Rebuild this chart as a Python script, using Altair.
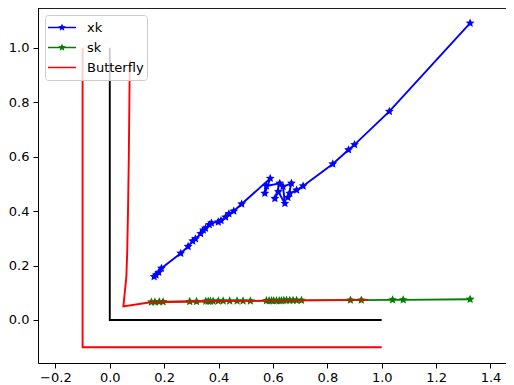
import math
import altair as alt
import pandas as pd

# ---- data ----
xk_x = [0.163, 0.170, 0.180, 0.190, 0.261, 0.288, 0.305, 0.315, 0.334, 0.344,
        0.352, 0.366, 0.374, 0.399, 0.409, 0.426, 0.438, 0.456, 0.485, 0.590,
        0.570, 0.576, 0.625, 0.607, 0.620, 0.644, 0.637, 0.668, 0.655, 0.662,
        0.687, 0.711, 0.820, 0.878, 0.900, 1.028, 1.325]
xk_y = [0.159, 0.165, 0.175, 0.190, 0.245, 0.270, 0.290, 0.298, 0.317, 0.330,
        0.337, 0.350, 0.356, 0.360, 0.365, 0.378, 0.390, 0.400, 0.426, 0.520,
        0.465, 0.492, 0.502, 0.446, 0.471, 0.428, 0.490, 0.502, 0.450, 0.465,
        0.477, 0.492, 0.573, 0.625, 0.644, 0.766, 1.090]

sk_x = [0.153, 0.166, 0.182, 0.196, 0.294, 0.319, 0.353, 0.362, 0.370, 0.380,
        0.399, 0.417, 0.441, 0.468, 0.490, 0.517, 0.576, 0.586, 0.595, 0.603,
        0.613, 0.623, 0.631, 0.640, 0.650, 0.662, 0.674, 0.687, 0.705, 0.885,
        0.925, 1.040, 1.079, 1.325]
sk_y = [0.066, 0.066, 0.067, 0.067, 0.068, 0.068, 0.069, 0.069, 0.069, 0.069,
        0.070, 0.070, 0.070, 0.070, 0.070, 0.070, 0.071, 0.071, 0.071, 0.071,
        0.071, 0.071, 0.071, 0.072, 0.072, 0.072, 0.072, 0.072, 0.072, 0.073,
        0.073, 0.074, 0.074, 0.076]

bf_x = [0.075, 0.073, 0.070, 0.067, 0.064, 0.061, 0.050, 0.150, 0.300, 0.500, 0.700, 0.950]
bf_y = [0.955, 0.900, 0.600, 0.400, 0.250, 0.160, 0.050, 0.065, 0.068, 0.070, 0.072, 0.074]

black_x = [0.0, 0.0, 1.0]
black_y = [1.0, 0.0, 0.0]
redbox_x = [-0.1, -0.1, 1.0]
redbox_y = [1.0, -0.1, -0.1]

series_names = ["xk", "sk", "Butterfly"]
series_colors = ["#0000ff", "#008000", "#ff0000"]
x_ticks = [-0.2, 0.0, 0.2, 0.4, 0.6, 0.8, 1.0, 1.2, 1.4]
y_ticks = [0.0, 0.2, 0.4, 0.6, 0.8, 1.0]

X_DOMAIN = [-0.264, 1.457]
Y_DOMAIN = [-0.158, 1.1458]
W, H = 468, 355


def star_path(r_out, r_in):
    pts = []
    for k in range(10):
        r = r_out if k % 2 == 0 else r_in
        a = math.radians(-90 + 36 * k)
        pts.append(f"{r * math.cos(a):.4f},{r * math.sin(a):.4f}")
    return "M" + "L".join(pts) + "Z"


STAR = star_path(1.0, 0.47)
LINE_PATH = "M-1,-0.055H1V0.055H-1Z"
LEGEND_STAR = LINE_PATH + star_path(0.28, 0.13)


def frame(xs, ys, name):
    return pd.DataFrame({"x": xs, "y": ys, "series": name, "i": list(range(len(xs)))})


df_xk = frame(xk_x, xk_y, "xk")
df_sk = frame(sk_x, sk_y, "sk")
df_bf = frame(bf_x, bf_y, "Butterfly")
df_black = frame(black_x, black_y, "black")
df_redbox = frame(redbox_x, redbox_y, "redbox")
df_leg = pd.DataFrame({"series": series_names})

xs = alt.Scale(domain=X_DOMAIN, zero=False, nice=False)
ys = alt.Scale(domain=Y_DOMAIN, zero=False, nice=False)
X = alt.X("x:Q", scale=xs, axis=alt.Axis(values=x_ticks, format=".1f", title=None))
Y = alt.Y("y:Q", scale=ys, axis=alt.Axis(values=y_ticks, format=".1f", title=None))
ORD = alt.Order("i:Q")

leg = alt.Legend(
    title=None, orient="none", legendX=7, legendY=7, direction="vertical",
    symbolSize=784, symbolOpacity=1, symbolStrokeWidth=0, clipHeight=19, rowPadding=1,
    labelOffset=11, labelFontSize=13, labelFont="DejaVu Sans", labelColor="#000000",
    padding=3, fillColor="rgba(255,255,255,0.8)", strokeColor="#cccccc", cornerRadius=3,
)
cscale = alt.Scale(domain=series_names, range=series_colors)
C = alt.Color("series:N", scale=cscale, legend=leg)

legend_layer = alt.Chart(df_leg).mark_point(filled=True, opacity=0).encode(
    x=alt.value(0), y=alt.value(0), color=C,
    shape=alt.Shape("series:N", scale=alt.Scale(domain=series_names,
                                                range=[LEGEND_STAR, LEGEND_STAR, LINE_PATH]),
                    legend=leg),
)

black_line = alt.Chart(df_black).mark_line(color="#000000", strokeWidth=1.9).encode(x=X, y=Y, order=ORD)
red_box = alt.Chart(df_redbox).mark_line(color="#ff0000", strokeWidth=1.9).encode(x=X, y=Y, order=ORD)

xk_line = alt.Chart(df_xk).mark_line(strokeWidth=1.9).encode(x=X, y=Y, order=ORD, color=C)
xk_pts = alt.Chart(df_xk).mark_point(filled=True, shape=STAR, size=85, opacity=1).encode(x=X, y=Y, color=C)
sk_line = alt.Chart(df_sk).mark_line(strokeWidth=1.9).encode(x=X, y=Y, order=ORD, color=C)
sk_pts = alt.Chart(df_sk).mark_point(filled=True, shape=STAR, size=85, opacity=1).encode(x=X, y=Y, color=C)
bf_line = alt.Chart(df_bf).mark_line(strokeWidth=1.9).encode(x=X, y=Y, order=ORD, color=C)

top_rule = alt.Chart(df_leg).mark_rule(color="#000000", strokeWidth=1).encode(
    x=alt.value(0), x2=alt.value(W), y=alt.value(0))

chart = alt.layer(
    legend_layer, black_line, red_box, xk_line, xk_pts, sk_line, sk_pts, bf_line, top_rule
).properties(
    width=W, height=H, autosize="none",
    padding={"left": 30, "top": 0, "right": 0, "bottom": 22},
).configure_view(stroke=None).configure_axis(
    grid=False, domainColor="#000000", domainWidth=1, tickColor="#000000", tickWidth=1,
    tickSize=5, labelColor="#000000", labelFont="DejaVu Sans", labelFontSize=13,
).configure_axisX(labelPadding=3).configure_axisY(labelPadding=4)

chart.save("out.html", embed_options={"renderer": "svg", "actions": False})
